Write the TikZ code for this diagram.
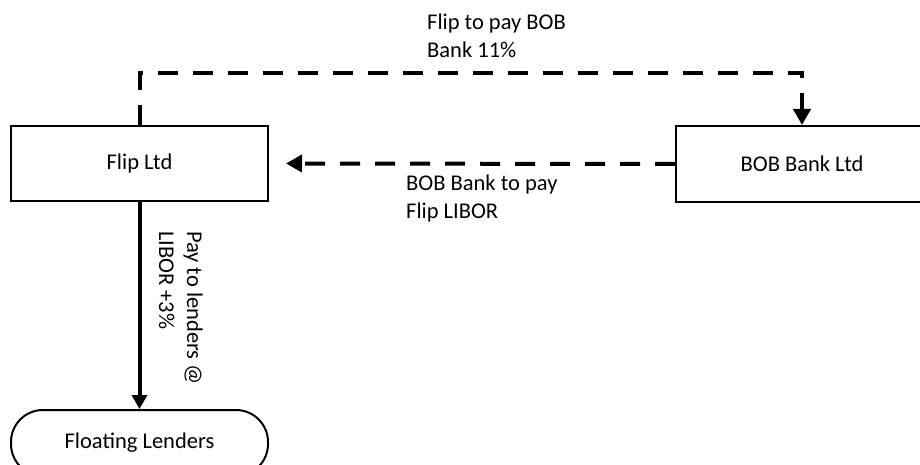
\documentclass[tikz,border=0pt]{standalone}
\usepackage{fontspec}
\setmainfont{Carlito}
\usetikzlibrary{arrows.meta}
\begin{document}
\begin{tikzpicture}[x=1pt,y=-1pt,
  box/.style={draw,line width=2pt,inner sep=0pt,font=\fontsize{22.5}{28}\selectfont},
  lbl/.style={align=left,inner sep=0pt,font=\fontsize{22.5}{28}\selectfont,anchor=north west},
  dashline/.style={line width=4pt,dash pattern=on 20pt off 15pt},
  dtip/.style={-{Triangle[length=16pt,width=17pt]}}]
\useasboundingbox (0,0) rectangle (920,465);
\node[box,minimum width=257pt,minimum height=75pt] (flip) at (139.5,163.5) {Flip Ltd};
\node[box,minimum width=252pt,minimum height=76pt] (bob) at (802,164) {BOB Bank Ltd};
\node[box,rounded corners=32pt,minimum width=257pt,minimum height=66pt] (float) at (139.5,443) {Floating Lenders};
\coordinate (tl) at (flip.north |- 0,73);
\coordinate (tr) at (bob.north |- 0,73);
\draw[dashline,dtip] (flip.north) -- (tl) -- (tr) -- (bob.north);
\draw[dashline,dtip] (bob.west) -- ([xshift=17pt]flip.east);
\draw[line width=4pt,-{Triangle[length=14pt,width=15pt]}] (flip.south) -- (float.north);
\node[lbl] (t1) at (427,14) {Flip to pay BOB\\Bank 11\%};
\node[lbl] (t2) at (406,175) {BOB Bank to pay\\Flip LIBOR};
\node[lbl,rotate=-90,anchor=north west] (t3) at (203,231) {Pay to lenders @\\LIBOR +3\%};
\end{tikzpicture}
\end{document}
